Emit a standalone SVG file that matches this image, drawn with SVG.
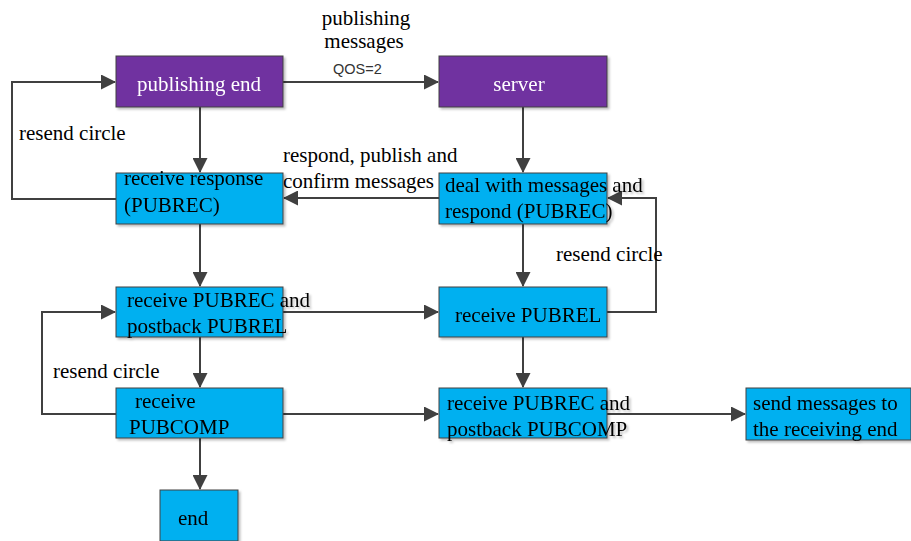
<svg xmlns="http://www.w3.org/2000/svg" width="911" height="541" viewBox="0 0 911 541">
<style>
.p{fill:#7030A0;stroke:#404040;stroke-width:1}
.b{fill:#00B0F0;stroke:#404040;stroke-width:1}
.t{font-family:"Liberation Serif","Times New Roman",serif;font-size:21px;fill:#000}
.w{fill:#fff}
.c{fill:none;stroke:#404040;stroke-width:2}
.q{font-family:"Liberation Sans",Arial,sans-serif;font-size:14.5px;fill:#333}
</style>
<defs>
<marker id="a" markerUnits="userSpaceOnUse" markerWidth="15" markerHeight="15" refX="14" refY="7.5" orient="auto">
<path d="M0,0 L15,7.5 L0,15 Z" fill="#404040"/>
</marker>
<filter id="s" x="-5%" y="-5%" width="115%" height="120%">
<feDropShadow dx="2" dy="2" stdDeviation="1" flood-color="#000" flood-opacity="0.25"/>
</filter>
</defs>
<rect width="911" height="541" fill="#fff"/>
<g id="connectors">
<path class="c" d="M283,82 H438" marker-end="url(#a)"/>
<path class="c" d="M200,107 V172" marker-end="url(#a)"/>
<path class="c" d="M523,107 V172" marker-end="url(#a)"/>
<path class="c" d="M439,198 H284" marker-end="url(#a)"/>
<path class="c" d="M116,199 H12 V82 H115" marker-end="url(#a)"/>
<path class="c" d="M200,224 V286" marker-end="url(#a)"/>
<path class="c" d="M523,224 V286" marker-end="url(#a)"/>
<path class="c" d="M607,312 H656 V198 H608" marker-end="url(#a)"/>
<path class="c" d="M283,312 H438" marker-end="url(#a)"/>
<path class="c" d="M116,414 H42 V312 H115" marker-end="url(#a)"/>
<path class="c" d="M200,337 V387" marker-end="url(#a)"/>
<path class="c" d="M523,337 V387" marker-end="url(#a)"/>
<path class="c" d="M283,414 H438" marker-end="url(#a)"/>
<path class="c" d="M607,414 H745" marker-end="url(#a)"/>
<path class="c" d="M200,438 V489" marker-end="url(#a)"/>
</g>
<g id="labels">
<text class="t" x="366" y="25" text-anchor="middle">publishing</text>
<text class="t" x="364" y="48" text-anchor="middle">messages</text>
<text class="q" x="333" y="74">QOS=2</text>
<text class="t" x="19" y="140">resend circle</text>
<text class="t" x="283" y="162">respond, publish and</text>
<text class="t" x="283" y="188">confirm messages</text>
<text class="t" x="556" y="261">resend circle</text>
<text class="t" x="53" y="378">resend circle</text>
</g>
<g id="publishing-end" filter="url(#s)">
<rect class="p" x="116" y="56" width="167" height="51"/>
<text class="t w" x="199" y="91" text-anchor="middle">publishing end</text>
</g>
<g id="server" filter="url(#s)">
<rect class="p" x="439" y="56" width="168" height="51"/>
<text class="t w" x="519" y="91" text-anchor="middle">server</text>
</g>
<g id="receive-response" filter="url(#s)">
<rect class="b" x="116" y="173" width="167" height="51"/>
<text class="t" x="124" y="185">receive response</text>
<text class="t" x="124" y="212">(PUBREC)</text>
</g>
<g id="deal-with-messages" filter="url(#s)">
<rect class="b" x="439" y="173" width="168" height="51"/>
<text class="t" x="445" y="192">deal with messages and</text>
<text class="t" x="445" y="218">respond (PUBREC)</text>
</g>
<g id="receive-pubrec-postback-pubrel" filter="url(#s)">
<rect class="b" x="116" y="287" width="167" height="50"/>
<text class="t" x="127" y="307">receive PUBREC and</text>
<text class="t" x="127" y="333">postback PUBREL</text>
</g>
<g id="receive-pubrel" filter="url(#s)">
<rect class="b" x="439" y="287" width="168" height="50"/>
<text class="t" x="455" y="322">receive PUBREL</text>
</g>
<g id="receive-pubcomp" filter="url(#s)">
<rect class="b" x="116" y="388" width="167" height="50"/>
<text class="t" x="135" y="408">receive</text>
<text class="t" x="129" y="434">PUBCOMP</text>
</g>
<g id="receive-pubrec-postback-pubcomp" filter="url(#s)">
<rect class="b" x="439" y="388" width="168" height="50"/>
<text class="t" x="447" y="410">receive PUBREC and</text>
<text class="t" x="447" y="436">postback PUBCOMP</text>
</g>
<g id="send-messages" filter="url(#s)">
<rect class="b" x="746" y="388" width="165" height="52"/>
<text class="t" x="753" y="410">send messages to</text>
<text class="t" x="753" y="436">the receiving end</text>
</g>
<g id="end" filter="url(#s)">
<rect class="b" x="160" y="490" width="78" height="51"/>
<text class="t" x="178" y="525">end</text>
</g>
</svg>
